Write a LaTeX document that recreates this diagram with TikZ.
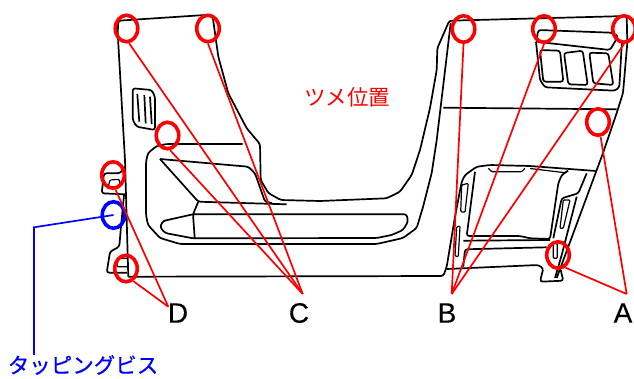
\documentclass[tikz,border=0pt]{standalone}
\usepackage{fontspec}
\setmainfont{Liberation Sans}[FakeBold=0.2]
\newfontfamily\jpfont{Noto Sans CJK JP}
\newfontfamily\jpheavyfont{Noto Sans CJK JP}[FakeBold=0.6]
\usetikzlibrary{shapes.geometric}
\tikzset{
    partline/.style={draw=black, line width=1.7pt, line join=round, rounded corners=2.5pt},
    thinpart/.style={draw=black, line width=1.2pt, line join=round, rounded corners=1pt},
    clipmark/.style={ellipse, draw=red, line width=3.6pt, minimum width=22.5pt, minimum height=26.5pt, inner sep=0pt},
    tapmark/.style={clipmark, draw=blue},
    leadline/.style={draw=red, line width=1.7pt},
    tapline/.style={draw=blue, line width=1.7pt},
    partlabel/.style={inner sep=0pt, font=\fontsize{28}{30}\selectfont},
}
\begin{document}
\begin{tikzpicture}[x=1pt, y=-1pt]
                \useasboundingbox (0,0) rectangle (634,378);

                % left panel and centre cut-out
                \draw[partline] (128.3,276.7)--(125,160)--(117.7,33)--(118.3,20.7)--(205,15)--(212.7,16.7)--(218.3,56.7)--(228.3,93.3)--(246.7,128.3)--(260,144)--(260.7,180)--(268.3,193)--(280.7,200)--(320,201)--(386.7,198.3)--(400,191.7)--(411.7,175)--(420,150)--(430,108)--(436.7,70)--(437.3,48.3)--(449.3,20.7)--(626.7,16)--(627.3,43)--(623,93)--(616.7,113)--(603,153)--(556.7,278);
                \draw[partline] (128.3,276.7)--(443.3,276)--(446.7,266.7)--(455,216.7)--(461.7,181.7)--(465,175)--(476.7,166.7)--(490,165)--(530,166)--(596,171);

                % pocket
                \draw[partline] (242.7,144)--(166.7,144)--(156.7,146)--(148,153)--(146,162)--(146,215)--(148,225)--(160,238)--(180,244)--(376.7,244)--(403,238)--(416.7,228)--(423,207)--(431.7,173)--(436.7,140)--(450.7,23);
                \draw[partline] (193,214.3)--(406.7,214.3)--(408,221.7)--(403,230)--(391.7,235)--(376.7,238)--(193,238.3)--(165,233)--(160,227)--(163,221)--(193,214.3);
                \draw[partline] (160,159)--(248.3,166.7)--(255,173.3)--(265,201.7)--(272,203);
                \draw[partline] (160,159)--(198.3,201.7)--(286.7,204.3);
                \draw[partline] (198.3,201.7)--(193,214.3)--(194.7,238);

                % vent
                \draw[partline] (132.7,88.3)--(151.7,90)--(155,96.7)--(155,130)--(136.7,126.7)--(132.7,120)--cycle;
                \draw[partline] (137.3,94)--(139.3,121.7);
                \draw[partline] (144.3,95)--(145.7,123.3);
                \draw[partline] (150,96.7)--(151.7,124);

                % left brackets
                \draw[partline] (125,166.7)--(120,173.3)--(104,173.3)--(101.7,193.3)--(125,194.3);
                \draw[thinpart] (110,180)--(119.3,179.3)--(120,186.7)--(108.3,186.7)--cycle;
                \draw[partline] (124,195)--(120.7,230)--(119.3,246.7)--(110,251.7)--(106.7,272.7)--(127,272.7);
                \draw[thinpart] (127,258.3)--(118.3,258.3)--(116.7,266.7)--(127,266.7);

                % switches
                \draw[partline] (443.3,107.7)--(616.7,109.3);
                \draw[partline] (536,41.7)--(538.3,30)--(611.7,32.7)--(618.3,36)--(610,50)--cycle;
                \draw[partline] (536,41.7)--(540,80)--(545,87.3)--(615,90.7)--(619.3,87.3)--(622,40);
                \draw[partline] (540,50)--(560,50.7)--(563.3,81.7)--(543.3,81.7)--cycle;
                \draw[partline] (564,53)--(582.7,50.7)--(587.7,85)--(568.3,84.3)--cycle;
                \draw[partline] (589.3,52.7)--(608.3,53.3)--(613.3,85)--(593.3,83.3)--cycle;

                % right cluster
                \draw[partline] (568,170.7)--(561.7,175)--(558.3,183.3)--(550,239)--(530,238.3)--(520,236)--(466.7,236)--(475,171.7);
                \draw[thinpart] (488.3,168.3)--(491.7,171.7)--(521.7,171.7)--(525,168.3);
                \draw[thinpart] (530,168.5)--(565,172.7)--(568,170.7);
                \draw[thinpart] (461.7,185)--(468.3,183.3)--(465,212.3)--(460.7,211.7)--cycle;
                \draw[thinpart] (456.7,226.7)--(460,226)--(458.3,256.7)--(455,256)--cycle;
                \draw[partline] (463.3,240.7)--(550,240);
                \draw[partline] (546.7,247.3)--(465,249.3)--(463.3,266.7);
                \draw[partline] (446.7,269)--(538.3,265)--(543.3,268.3)--(540,281.7)--(563.3,280.7)--(560.7,270);
                \draw[partline] (586.7,173.3)--(578.3,193.3)--(561.7,198.3)--(553.3,238.3);
                \draw[partline] (576.7,196.7)--(561.7,255)--(555,278);
                \draw[thinpart] (563.3,200)--(570,200)--(563.3,228.3)--(560,228.3)--cycle;
                \draw[thinpart] (553.3,243.3)--(557.3,243.3)--(557.3,258.3)--(553.3,258.3)--cycle;

                % marks
                \node[clipmark] (clipCa) at (126.5,28.5) {};
                \node[clipmark] (clipCb) at (208,28.5) {};
                \node[clipmark] (clipCc) at (167.5,135.5) {};
                \node[clipmark] (clipDa) at (113,175) {};
                \node[clipmark] (clipDb) at (126,268.5) {};
                \node[clipmark] (clipBa) at (463.5,29) {};
                \node[clipmark] (clipBb) at (544,29) {};
                \node[clipmark] (clipBc) at (624,29) {};
                \node[clipmark] (clipAa) at (598,122) {};
                \node[clipmark] (clipAb) at (558,255) {};
                \node[tapmark] (tapscrew) at (113.5,215) {};

                % labels
                \node[partlabel] (labelA) at (623,313) {A};
                \node[partlabel] (labelB) at (447,313) {B};
                \node[partlabel] (labelC) at (299,313) {C};
                \node[partlabel] (labelD) at (178,313) {D};
                \node[inner sep=0pt, text=red, font=\jpfont\fontsize{21.5}{24}\selectfont] (labelclip) at (347,97) {ツメ位置};
                \node[inner sep=0pt, text=blue, font=\jpheavyfont\fontsize{21.5}{24}\selectfont] (labeltap) at (83,365) {タッピングビス};

                % leaders
                \coordinate (apexA) at (626.7,294);
                \coordinate (apexB) at (451.7,294);
                \coordinate (apexC) at (302.7,294);
                \coordinate (apexD) at (168.3,306.7);
                \coordinate (tapbend) at (34,227.3);
                \draw[leadline] (clipCa.-80)--(apexC);
                \draw[leadline] (clipCb.south)--(apexC);
                \draw[leadline] (clipCc.-80)--(apexC);
                \draw[leadline] (clipBa.south)--(apexB);
                \draw[leadline] (clipBb.south)--(apexB);
                \draw[leadline] (clipBc.south)--(apexB);
                \draw[leadline] (clipAa.-80)--(apexA);
                \draw[leadline] (clipAb.-60)--(apexA);
                \draw[leadline] (clipDa.-80)--(apexD);
                \draw[leadline] (clipDb.-60)--(apexD);
                \draw[tapline] (tapscrew.center)--(tapbend)--(labeltap.north -| tapbend);
\end{tikzpicture}
\end{document}
